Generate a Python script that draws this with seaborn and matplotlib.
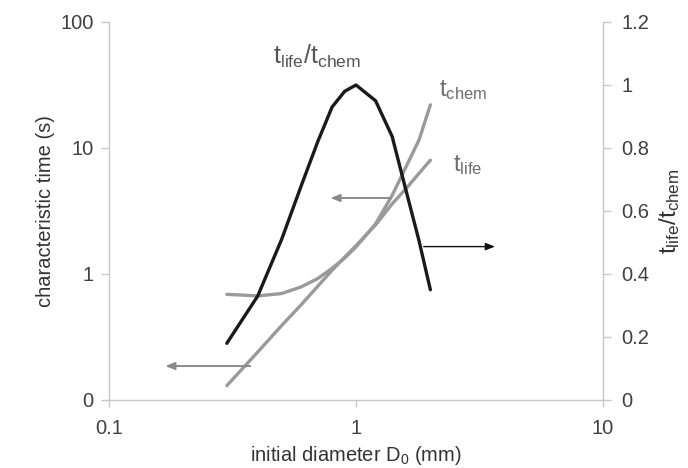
import matplotlib
matplotlib.use("Agg")
import matplotlib.pyplot as plt
import seaborn as sns
import pandas as pd
from matplotlib.ticker import FixedLocator, FixedFormatter, NullLocator

# Droplet diameter (mm) and characteristic times
diameter_mm = [0.3, 0.4, 0.5, 0.6, 0.7, 0.8, 0.9, 1.0, 1.2, 1.4, 1.6, 1.8, 2.0]
t_chem_s = [0.69, 0.67, 0.70, 0.79, 0.92, 1.11, 1.34, 1.64, 2.5, 4.2, 7.2, 11.6, 22.0]
t_life_s = [0.13, 0.24, 0.39, 0.57, 0.80, 1.07, 1.36, 1.68, 2.45, 3.6, 4.8, 6.3, 8.0]
ratio = [0.18, 0.33, 0.51, 0.68, 0.82, 0.93, 0.98, 1.00, 0.95, 0.837, 0.66, 0.505, 0.35]

x_ticks = [0.1, 1, 10]
x_labels = ["0.1", "1", "10"]
y_ticks = [0.1, 1, 10, 100]
y_labels = ["0", "1", "10", "100"]
y2_ticks = [0, 0.2, 0.4, 0.6, 0.8, 1.0, 1.2]
y2_labels = ["0", "0.2", "0.4", "0.6", "0.8", "1", "1.2"]

df = pd.DataFrame({"D": diameter_mm, "t_chem": t_chem_s,
                   "t_life": t_life_s, "ratio": ratio})

sns.set_style("white")
plt.rcParams["font.family"] = ["Liberation Sans", "DejaVu Sans"]
plt.rcParams["mathtext.fontset"] = "custom"
plt.rcParams["mathtext.rm"] = "Liberation Sans"
plt.rcParams["mathtext.it"] = "Liberation Sans:italic"
plt.rcParams["mathtext.bf"] = "Liberation Sans:bold"

SPINE = "#c8c8c8"
TXT = "#404040"
GRAY = "#9a9a9a"
DARK = "#1a1a1a"

fig = plt.figure(figsize=(6.88, 4.68), dpi=100)
ax = fig.add_axes([0.1584, 0.1453, 0.7181, 0.8077])
ax2 = ax.twinx()

sns.lineplot(data=df, x="D", y="t_chem", ax=ax, color=GRAY, lw=2.4)
sns.lineplot(data=df, x="D", y="t_life", ax=ax, color=GRAY, lw=2.4)
sns.lineplot(data=df, x="D", y="ratio", ax=ax2, color=DARK, lw=2.4)

ax.set_xscale("log")
ax.set_yscale("log")
ax.set_xlim(0.1, 10)
ax.set_ylim(0.1, 100)
ax2.set_ylim(0, 1.2)

ax.xaxis.set_major_locator(FixedLocator(x_ticks))
ax.xaxis.set_major_formatter(FixedFormatter(x_labels))
ax.xaxis.set_minor_locator(NullLocator())
ax.yaxis.set_major_locator(FixedLocator(y_ticks))
ax.yaxis.set_major_formatter(FixedFormatter(y_labels))
ax.yaxis.set_minor_locator(NullLocator())
ax2.yaxis.set_major_locator(FixedLocator(y2_ticks))
ax2.yaxis.set_major_formatter(FixedFormatter(y2_labels))

for a in (ax, ax2):
    for s in a.spines.values():
        s.set_color(SPINE)
        s.set_linewidth(1.0)
    a.spines["top"].set_visible(False)
ax.spines["right"].set_visible(False)
ax2.spines["left"].set_visible(False)
ax2.spines["bottom"].set_visible(False)

ax.tick_params(axis="both", which="major", direction="out", length=6,
               width=1, color=SPINE, labelsize=14.5, labelcolor=TXT)
ax.tick_params(axis="x", pad=9, length=5, bottom=True)
ax.tick_params(axis="y", pad=5, left=True)
ax2.tick_params(axis="y", direction="out", length=6, width=1, color=SPINE,
                labelsize=14.5, labelcolor=TXT, pad=7, right=True)

ax.set_xlabel(r"initial diameter $\mathrm{D_0}$ (mm)", fontsize=14.5,
              color="#333333", labelpad=4)
ax.set_ylabel("characteristic time (s)", fontsize=14.5, color="#333333",
              labelpad=4)
ax2.set_ylabel(r"$\mathrm{t_{life}/t_{chem}}$", fontsize=17.5, color="#333333",
               labelpad=6)

# Curve labels
ax.text(0.463, 41.6, r"$\mathrm{t_{life}/t_{chem}}$", fontsize=18,
        color="#555555", ha="left", va="bottom")
ax.text(2.16, 23.2, r"$\mathrm{t_{chem}}$", fontsize=17, color="#6e6e6e",
        ha="left", va="bottom")
ax.text(2.46, 5.9, r"$\mathrm{t_{life}}$", fontsize=17, color="#6e6e6e",
        ha="left", va="bottom")

# Arrows pointing each curve to its axis
arrow_gray = dict(arrowstyle="-|>,head_length=0.55,head_width=0.22",
                  color="#8a8a8a", lw=1.4, shrinkA=0, shrinkB=0)
arrow_black = dict(arrowstyle="-|>,head_length=0.55,head_width=0.22",
                   color="#111111", lw=1.0, shrinkA=0, shrinkB=0)
ax.annotate("", xy=(0.169, 0.186), xytext=(0.373, 0.186), arrowprops=arrow_gray)
ax.annotate("", xy=(0.788, 4.01), xytext=(1.38, 4.01), arrowprops=arrow_gray)
ax.annotate("", xy=(3.65, 1.65), xytext=(1.88, 1.65), arrowprops=arrow_black)

fig.savefig("out.png", dpi=100)
